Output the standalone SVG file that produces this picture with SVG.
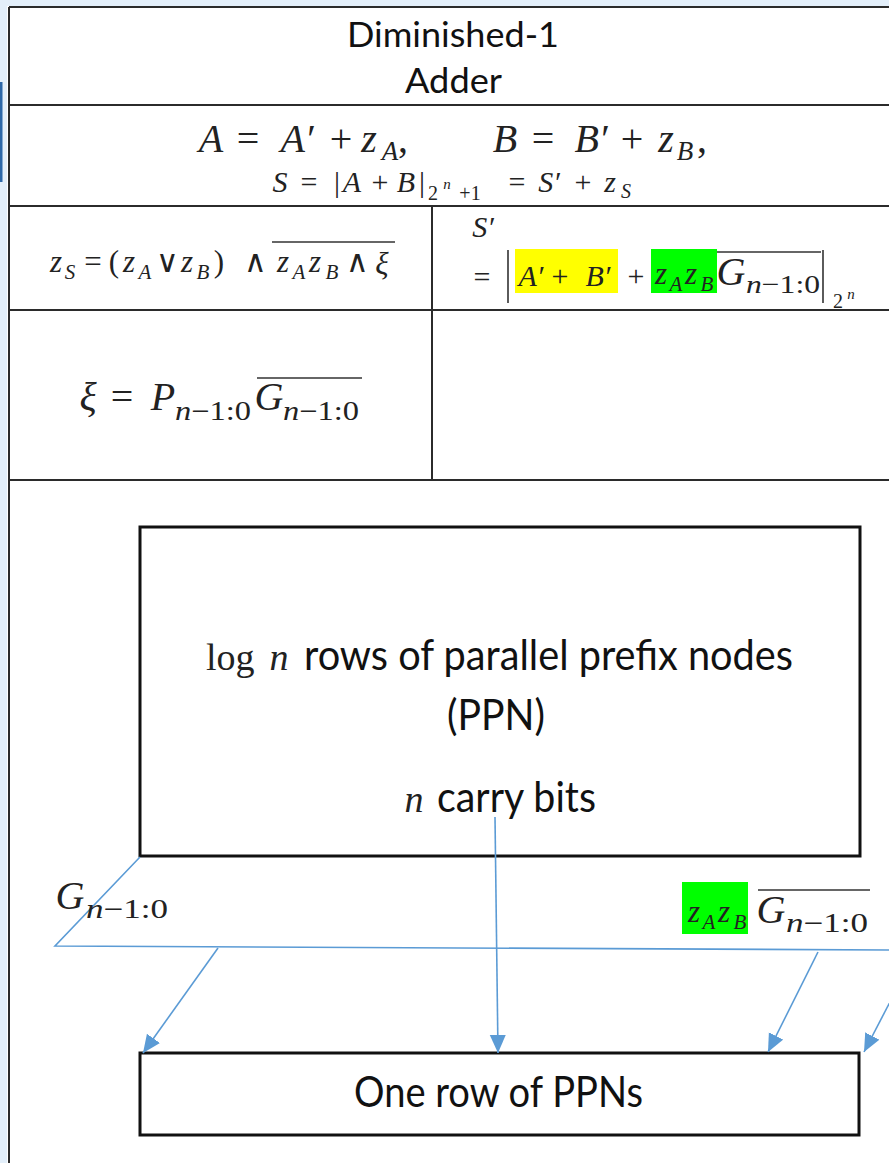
<svg xmlns="http://www.w3.org/2000/svg" width="889" height="1163" viewBox="0 0 889 1163">
<defs>
<style>
.grid{stroke:#2b2b2b;stroke-width:2;fill:none}
.box{fill:#fff;stroke:#111;stroke-width:3}
.sans{font-family:Lato,"Noto Sans","Liberation Sans",sans-serif;fill:#111}
.m{font-family:"Liberation Serif","Times New Roman",serif;fill:#222;text-anchor:middle}
.ms{font-family:"Liberation Serif","Times New Roman",serif;fill:#222;text-anchor:start}
.i{font-style:italic}
.conn{stroke:#5b9bd5;stroke-width:1.6;fill:none}
.ca{stroke:#5b9bd5;stroke-width:1.6;fill:none;marker-end:url(#ah)}
.ol{stroke:#333;stroke-width:1.5}
.bar{stroke:#333;stroke-width:1.6}
</style>
<marker id="ah" markerUnits="userSpaceOnUse" markerWidth="20" markerHeight="18" refX="18" refY="8" orient="auto"><path d="M0,0 L18,8 L0,16 z" fill="#5b9bd5"/></marker>
</defs>
<rect x="0" y="0" width="889" height="1163" fill="#fff"/>
<rect x="0" y="0" width="889" height="6" fill="#e3effa"/>
<rect x="0" y="0" width="7" height="1163" fill="#e3effa"/>
<rect x="0" y="82" width="2.5" height="100" fill="#2d68a8"/>

<g id="table">
<path class="grid" d="M9,7 H889 M9,7 V1163 M9,105 H889 M9,206 H889 M9,310 H889 M9,480 H889 M432,206 V480"/>
</g>

<g id="title">
<text class="sans" x="453" y="47" font-size="35" text-anchor="middle" textLength="212" lengthAdjust="spacingAndGlyphs">Diminished-1</text>
<text class="sans" x="453.5" y="93" font-size="35" text-anchor="middle" textLength="97" lengthAdjust="spacingAndGlyphs">Adder</text>
</g>

<g id="formula-def">
<text class="m" font-size="40" y="152"><tspan class="i" x="211">A</tspan><tspan x="248">=</tspan><tspan class="i" x="297">A′</tspan><tspan x="341">+</tspan><tspan class="i" x="369">z</tspan><tspan class="i" x="390" y="160" font-size="27">A</tspan><tspan x="403" y="152">,</tspan></text>
<text class="m" font-size="40" y="152"><tspan class="i" x="505">B</tspan><tspan x="543">=</tspan><tspan class="i" x="591">B′</tspan><tspan x="632">+</tspan><tspan class="i" x="666">z</tspan><tspan class="i" x="685" y="160" font-size="27">B</tspan><tspan x="702" y="152">,</tspan></text>
<text class="m" font-size="30" y="192"><tspan class="i" x="280">S</tspan><tspan x="309">=</tspan><tspan x="337">|</tspan><tspan class="i" x="352">A</tspan><tspan x="380">+</tspan><tspan class="i" x="406">B</tspan><tspan x="422">|</tspan><tspan x="433" y="200" font-size="20">2</tspan><tspan class="i" x="447" y="189" font-size="15">n</tspan><tspan x="470" y="200" font-size="20">+1</tspan><tspan x="517" y="192">=</tspan><tspan class="i" x="549">S′</tspan><tspan x="583">+</tspan><tspan class="i" x="610">z</tspan><tspan class="i" x="626" y="198" font-size="20">S</tspan></text>
</g>

<g id="formula-zs">
<text class="m" font-size="31" y="272"><tspan class="i" x="56">z</tspan><tspan class="i" x="70" y="279" font-size="21">S</tspan><tspan x="93" y="272">=</tspan><tspan x="114">(</tspan><tspan class="i" x="129">z</tspan><tspan class="i" x="145" y="279" font-size="21">A</tspan><tspan x="167" y="272">∨</tspan><tspan class="i" x="187">z</tspan><tspan class="i" x="203" y="279" font-size="21">B</tspan><tspan x="219" y="272">)</tspan><tspan x="255">∧</tspan><tspan class="i" x="283">z</tspan><tspan class="i" x="299" y="279" font-size="21">A</tspan><tspan class="i" x="315" y="272">z</tspan><tspan class="i" x="332" y="279" font-size="21">B</tspan><tspan x="357" y="272">∧</tspan><tspan class="i" x="382" y="274">ξ</tspan></text>
<line class="ol" x1="272" y1="242" x2="395" y2="242"/>
</g>

<g id="formula-sprime">
<text class="m i" font-size="30" x="483" y="237">S′</text>
<text class="m" font-size="30" x="482" y="287">=</text>
<line class="bar" x1="508" y1="250" x2="508" y2="303"/>
<rect x="515" y="249" width="103" height="44" fill="#ffff00"/>
<text class="m" font-size="30" y="286"><tspan class="i" x="531">A′</tspan><tspan x="560">+</tspan><tspan class="i" x="598">B′</tspan><tspan x="636">+</tspan></text>
<rect x="651" y="249" width="66" height="44" fill="#00ff00"/>
<text class="m" font-size="31" y="284"><tspan class="i" x="661">z</tspan><tspan class="i" x="676" y="291" font-size="21">A</tspan><tspan class="i" x="691" y="284">z</tspan><tspan class="i" x="707" y="291" font-size="21">B</tspan></text>
<line class="ol" x1="717" y1="252" x2="821" y2="252"/>
<text class="m i" font-size="40" x="731" y="285">G</text>
<text class="ms" font-size="26" x="746" y="293" textLength="74" lengthAdjust="spacingAndGlyphs"><tspan class="i">n</tspan>−1:0</text>
<line class="bar" x1="823" y1="250" x2="823" y2="303"/>
<text class="m" font-size="20" x="838" y="308">2</text>
<text class="m i" font-size="15" x="851" y="299">n</text>
</g>

<g id="formula-xi">
<text class="m" font-size="40" y="410"><tspan class="i" x="88">ξ</tspan><tspan x="122">=</tspan><tspan class="i" x="163">P</tspan><tspan class="i" x="269">G</tspan></text>
<text class="ms" font-size="27" x="175" y="420" textLength="76" lengthAdjust="spacingAndGlyphs"><tspan class="i">n</tspan>−1:0</text>
<text class="ms" font-size="27" x="283" y="420" textLength="76" lengthAdjust="spacingAndGlyphs"><tspan class="i">n</tspan>−1:0</text>
<line class="ol" x1="257" y1="378" x2="362" y2="378"/>
</g>

<g id="ppn-block">
<rect class="box" x="140" y="527" width="720" height="329"/>
<text class="ms" font-size="38" x="206" y="670">log</text>
<text class="m i" font-size="38" x="279" y="670">n</text>
<text class="sans" font-size="42" x="304" y="670" textLength="489" lengthAdjust="spacingAndGlyphs">rows of parallel prefix nodes</text>
<text class="sans" font-size="42" x="496" y="730" text-anchor="middle" textLength="98" lengthAdjust="spacingAndGlyphs">(PPN)</text>
<text class="m i" font-size="38" x="414" y="812">n</text>
<text class="sans" font-size="42" x="437" y="812" textLength="159" lengthAdjust="spacingAndGlyphs">carry bits</text>
</g>

<g id="ppn-row">
<rect class="box" x="140" y="1053" width="719" height="82"/>
<text class="sans" font-size="42" x="354" y="1107" textLength="289" lengthAdjust="spacingAndGlyphs">One row of PPNs</text>
</g>

<g id="connectors">
<path class="conn" d="M140,857 L55,946 L889,950"/>
<line class="ca" x1="218" y1="948" x2="143" y2="1053"/>
<line class="ca" x1="495" y1="817" x2="498" y2="1053"/>
<line class="ca" x1="818" y1="952" x2="768" y2="1052"/>
<line class="ca" x1="917" y1="950" x2="864" y2="1052"/>
</g>

<g id="label-g">
<text class="m i" font-size="40" x="70" y="909">G</text>
<text class="ms" font-size="27" x="86" y="918" textLength="82" lengthAdjust="spacingAndGlyphs"><tspan class="i">n</tspan>−1:0</text>
</g>

<g id="label-zzg">
<rect x="682" y="882" width="66" height="52" fill="#00ff00"/>
<text class="m" font-size="31" y="922"><tspan class="i" x="694">z</tspan><tspan class="i" x="709" y="929" font-size="21">A</tspan><tspan class="i" x="724" y="922">z</tspan><tspan class="i" x="740" y="929" font-size="21">B</tspan></text>
<line class="ol" x1="758" y1="890" x2="870" y2="890"/>
<text class="m i" font-size="40" x="771" y="923">G</text>
<text class="ms" font-size="27" x="786" y="932" textLength="82" lengthAdjust="spacingAndGlyphs"><tspan class="i">n</tspan>−1:0</text>
</g>
</svg>
